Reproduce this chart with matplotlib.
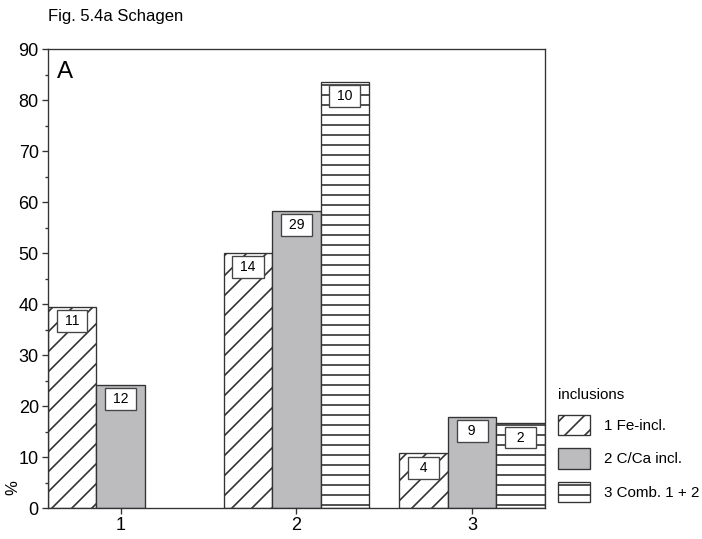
import matplotlib
matplotlib.use("Agg")
import matplotlib.pyplot as plt
import numpy as np
from matplotlib.patches import Patch
from matplotlib.ticker import MultipleLocator

plt.rcParams['font.family'] = ['Liberation Sans', 'DejaVu Sans']
plt.rcParams['hatch.linewidth'] = 1.0

groups = [1, 2, 3]
fe_incl = [39.5, 50.0, 10.7]
cca_incl = [24.2, 58.2, 17.8]
comb = [np.nan, 83.6, 16.6]

fe_n = [11, 14, 4]
cca_n = [12, 29, 9]
comb_n = [None, 10, 2]

series_names = ["1 Fe-incl.", "2 C/Ca incl.", "3 Comb. 1 + 2"]

edge = '#333333'
grey = '#bcbcbe'
width = 0.2756

fig = plt.figure(figsize=(5.85, 539 / 120), dpi=120)
ax = fig.add_axes([0.0684, 0.0575, 0.7076, 0.8515])

styles = [
    dict(facecolor='white', hatch='//'),
    dict(facecolor=grey, hatch=None),
    dict(facecolor='white', hatch='--'),
]
values = [fe_incl, cca_incl, comb]
counts = [fe_n, cca_n, comb_n]

x = np.array(groups, dtype=float)
for i, (vals, ns, st) in enumerate(zip(values, counts, styles)):
    xs = x + (i - 1) * width
    ax.bar(xs, vals, width=width, edgecolor=edge, linewidth=0.8, **st)
    # sample counts in small boxes near the bar tops
    for xi, v, n in zip(xs, vals, ns):
        if n is None:
            continue
        txt = f" {n} " if n >= 10 else f"  {n}  "
        ax.annotate(txt, (xi, v), xytext=(0, -8.5), textcoords='offset points',
                    ha='center', va='center', fontsize=8.4,
                    bbox=dict(boxstyle='square,pad=0.28', facecolor='white',
                              edgecolor='#444444', linewidth=0.8))

ax.set_xlim(1 - 1.5 * width, 3 + 1.5 * width)
ax.set_ylim(0, 90)
ax.set_xticks(groups)
ax.yaxis.set_major_locator(MultipleLocator(10))
ax.yaxis.set_minor_locator(MultipleLocator(5))
ax.tick_params(axis='both', which='major', direction='out', length=3.5,
               width=0.8, color=edge, labelsize=10.8, pad=2)
ax.tick_params(axis='y', which='minor', direction='out', length=2,
               width=0.8, color=edge)
for sp in ax.spines.values():
    sp.set_color(edge)
    sp.set_linewidth(0.8)

ax.set_ylabel('%', fontsize=10)
ax.yaxis.set_label_coords(-0.055, 0.045)

ax.text(0.018, 0.975, 'A', transform=ax.transAxes, ha='left', va='top',
        fontsize=14.5)
fig.text(0.068, 1 - 17 / 539, 'Fig. 5.4a Schagen', ha='left', va='center',
         fontsize=10)

handles = [Patch(edgecolor=edge, linewidth=0.8, label=name, **st)
           for name, st in zip(series_names, styles)]
leg = ax.legend(handles=handles, title='inclusions', loc='upper left',
                bbox_to_anchor=(0.795, 1 - 388 / 539),
                bbox_transform=fig.transFigure, frameon=False,
                fontsize=9.1, title_fontsize=9.1, handlelength=2.1,
                handleheight=1.7, labelspacing=0.85, handletextpad=0.92,
                borderpad=0, borderaxespad=0, alignment='left')

fig.savefig('out.png', dpi=120)
